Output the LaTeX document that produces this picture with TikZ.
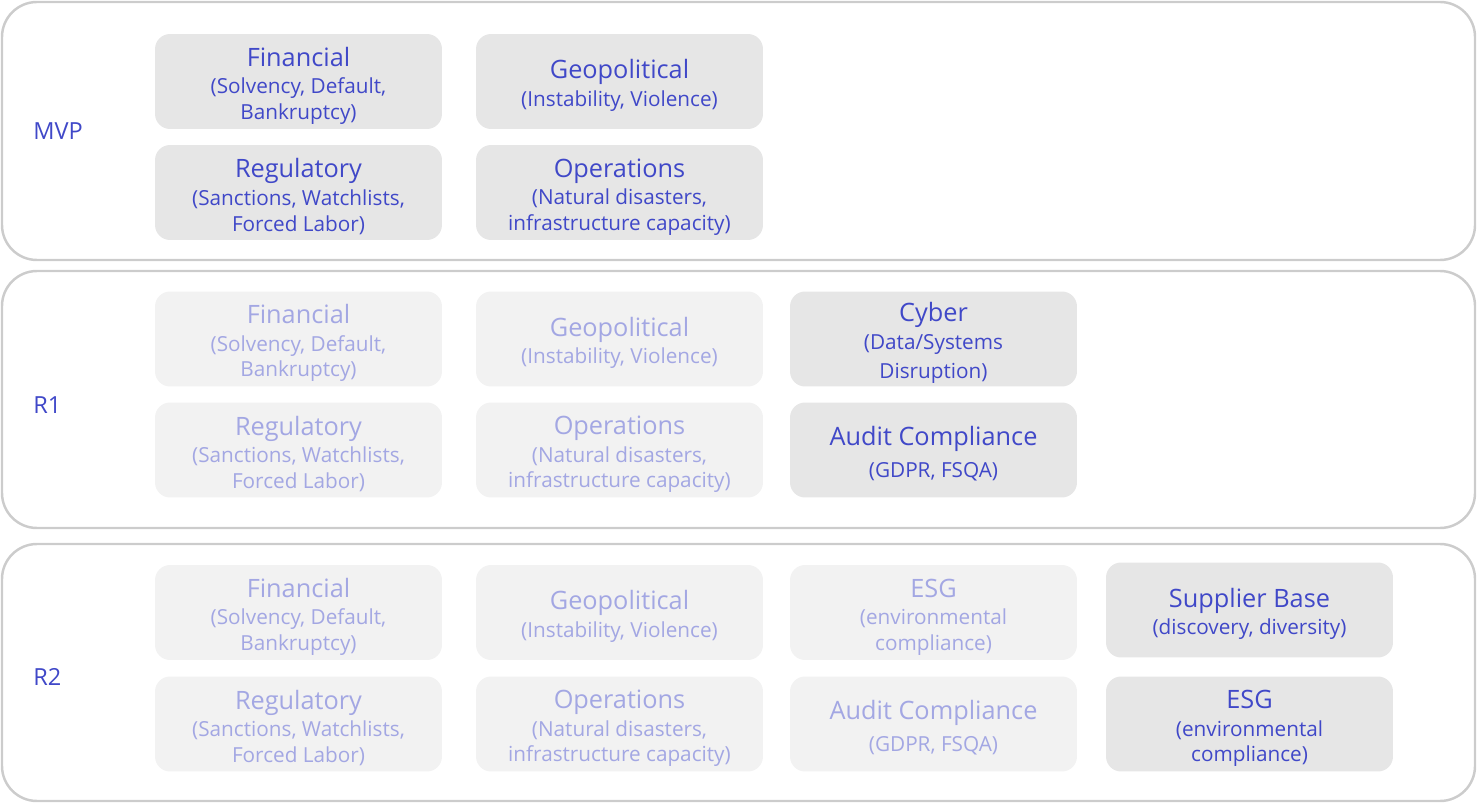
\documentclass[tikz,border=0pt]{standalone}
\usepackage{fontspec}
\setmainfont{Open Sans}
\usetikzlibrary{positioning}

\definecolor{riskblue}{HTML}{4048C8}
\definecolor{fadeblue}{HTML}{A3A7E3}
\definecolor{boxgray}{HTML}{E6E6E6}
\definecolor{fadegray}{HTML}{F2F2F2}
\definecolor{panelgray}{HTML}{CCCCCC}

\newcommand{\subfont}{\fontsize{11.8}{14.6}\selectfont}
\newcommand{\ttlfont}{\fontsize{14.4}{16}\selectfont}
\newcommand{\ttl}[1]{{\ttlfont\rule{0pt}{15.5pt}#1}}

\tikzset{
	panel/.style={draw=panelgray, line width=1.4pt, rounded corners=0.7cm},
	riskbox/.style={fill=boxgray, text=riskblue, rounded corners=0.3cm,
		minimum width=5.74cm, minimum height=1.9cm, inner sep=0pt,
		align=center, font=\subfont},
	faded/.style={riskbox, fill=fadegray, text=fadeblue},
	stagelabel/.style={anchor=west, inner sep=0pt, text=riskblue, font=\fontsize{13.4}{15}\selectfont}
}

\begin{document}
\begin{tikzpicture}[x=0.02cm, y=-0.02cm]
			%%%%% START %%%%%
			\useasboundingbox (0, 0) rectangle (1477, 803);
			
			\draw[panel] (2, 2) rectangle (1475, 260);
			\draw[panel] (2, 271) rectangle (1475, 528);
			\draw[panel] (2, 544) rectangle (1475, 801);
			
			\node[stagelabel] (mvp) at (33, 131) {MVP};
			\node[stagelabel] (rone) at (33, 405) {R1};
			\node[stagelabel] (rtwo) at (33, 677) {R2};
			
			% MVP
			\node[riskbox] (mvpfin) at (298.5, 81.5) {\ttl{Financial}\\[1pt](Solvency, Default,\\Bankruptcy)};
			\node[riskbox] (mvpgeo) at (619.5, 81.5) {\ttl{Geopolitical}\\[1pt](Instability, Violence)};
			\node[riskbox] (mvpreg) at (298.5, 192.5) {\ttl{Regulatory}\\[1pt](Sanctions, Watchlists,\\Forced Labor)};
			\node[riskbox] (mvpops) at (619.5, 192.5) {\ttl{Operations}\\[1pt](Natural disasters,\\infrastructure capacity)};
			
			% R1
			\node[faded] (rafin) at (298.5, 339) {\ttl{Financial}\\[1pt](Solvency, Default,\\Bankruptcy)};
			\node[faded] (rageo) at (619.5, 339) {\ttl{Geopolitical}\\[1pt](Instability, Violence)};
			\node[riskbox] (racyb) at (933.5, 339) {\ttl{Cyber}\\[1pt](Data/Systems\\[2pt]Disruption)};
			\node[faded] (rareg) at (298.5, 450) {\ttl{Regulatory}\\[1pt](Sanctions, Watchlists,\\Forced Labor)};
			\node[faded] (raops) at (619.5, 450) {\ttl{Operations}\\[1pt](Natural disasters,\\infrastructure capacity)};
			\node[riskbox] (raaud) at (933.5, 450) {\ttl{Audit Compliance}\\[3.5pt](GDPR, FSQA)};
			
			% R2
			\node[faded] (rbfin) at (298.5, 612.5) {\ttl{Financial}\\[1pt](Solvency, Default,\\Bankruptcy)};
			\node[faded] (rbgeo) at (619.5, 612.5) {\ttl{Geopolitical}\\[1pt](Instability, Violence)};
			\node[faded] (rbesg) at (933.5, 612.5) {\ttl{ESG}\\[1pt](environmental\\compliance)};
			\node[riskbox] (rbsup) at (1249.5, 610) {\ttl{Supplier Base}\\[1pt](discovery, diversity)};
			\node[faded] (rbreg) at (298.5, 724) {\ttl{Regulatory}\\[1pt](Sanctions, Watchlists,\\Forced Labor)};
			\node[faded] (rbops) at (619.5, 724) {\ttl{Operations}\\[1pt](Natural disasters,\\infrastructure capacity)};
			\node[faded] (rbaud) at (933.5, 724) {\ttl{Audit Compliance}\\[3.5pt](GDPR, FSQA)};
			\node[riskbox] (rbesgb) at (1249.5, 724) {\ttl{ESG}\\[1pt](environmental\\compliance)};
			
			%%%%% END %%%%%
\end{tikzpicture}
\end{document}
